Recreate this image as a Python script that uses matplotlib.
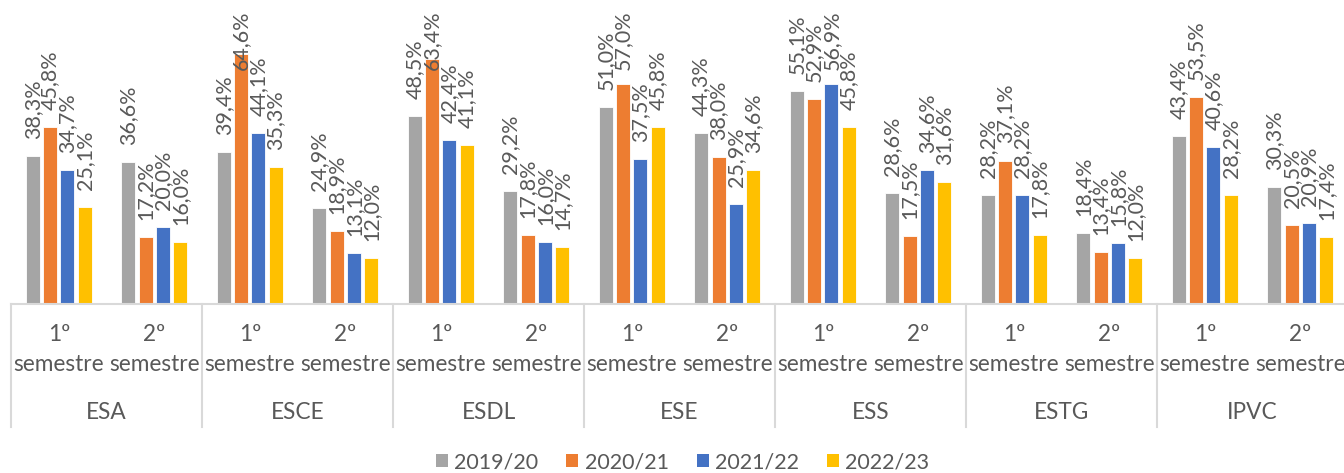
import matplotlib
matplotlib.use("Agg")
from matplotlib import pyplot as plt
from matplotlib.patches import Patch
import numpy as np

plt.rcParams['font.family'] = ['Lato', 'DejaVu Sans']

# schools and semesters
schools = ['ESA', 'ESCE', 'ESDL', 'ESE', 'ESS', 'ESTG', 'IPVC']
semesters = ['1º\nsemestre', '2º\nsemestre']
years = ['2019/20', '2020/21', '2021/22', '2022/23']
colors = ['#A5A5A5', '#ED7D31', '#4472C4', '#FFC000']

# values per year, order: ESA 1º, ESA 2º, ESCE 1º, ESCE 2º, ...
v2019 = [38.3, 36.6, 39.4, 24.9, 48.5, 29.2, 51.0, 44.3, 55.1, 28.6, 28.2, 18.4, 43.4, 30.3]
v2020 = [45.8, 17.2, 64.6, 18.9, 63.4, 17.8, 57.0, 38.0, 52.9, 17.5, 37.1, 13.4, 53.5, 20.5]
v2021 = [34.7, 20.0, 44.1, 13.1, 42.4, 16.0, 37.5, 25.9, 56.9, 34.6, 28.2, 15.8, 40.6, 20.9]
v2022 = [25.1, 16.0, 35.3, 12.0, 41.1, 14.7, 45.8, 34.6, 45.8, 31.6, 17.8, 12.0, 28.2, 17.4]
series = [v2019, v2020, v2021, v2022]

txt = '#595959'
grid = '#D9D9D9'

fig = plt.figure(figsize=(13.44, 4.73), dpi=100)
ax = fig.add_axes([11/1344, 169/473, 14*95.5/1344, 304/473])

x = np.arange(len(v2019))
bw = 0.147
step = 0.181
ymax = 78.6
for i, vals in enumerate(series):
    xs = x + (i - 1.5) * step
    ax.bar(xs, vals, width=bw, color=colors[i], edgecolor='white', linewidth=0.6, zorder=2)
    for xx, v in zip(xs, vals):
        # labels that would run past the top get pushed down (like Excel does)
        yl = min(v + 4.4, 60.5)
        ax.text(xx, yl, f"{v:.1f}%".replace('.', ','), rotation=90, ha='center', va='bottom',
                fontsize=15.5, color=txt)

ax.set_xlim(-0.5, len(x) - 0.5)
ax.set_ylim(0, ymax)
ax.set_yticks([])
ax.set_xticks([])
for s in ['top', 'right', 'left']:
    ax.spines[s].set_visible(False)
ax.spines['bottom'].set_color(grid)
ax.spines['bottom'].set_linewidth(1.5)

trans = ax.get_xaxis_transform()
# semester labels
for k in range(len(x)):
    sem = semesters[k % 2].split('\n')
    ax.annotate(sem[0], xy=(k, 0), xycoords=trans, xytext=(0, -22.3), textcoords='offset points',
                ha='center', va='center', fontsize=16.3, color=txt)
    ax.annotate(sem[1], xy=(k, 0), xycoords=trans, xytext=(0, -43.5), textcoords='offset points',
                ha='center', va='center', fontsize=16.3, color=txt)
# school labels and separators
for j, name in enumerate(schools):
    ax.annotate(name, xy=(2 * j + 0.5, 0), xycoords=trans, xytext=(0, -78), textcoords='offset points',
                ha='center', va='center', fontsize=16.3, color=txt)
for j in range(len(schools) + 1):
    ax.plot([2 * j - 0.5, 2 * j - 0.5], [0, -0.405], transform=trans, color=grid, lw=1.5, clip_on=False)

handles = [Patch(facecolor=c, label=y) for c, y in zip(colors, years)]
fig.legend(handles=handles, loc='lower center', bbox_to_anchor=(0.508, -0.04), ncol=4, frameon=False,
           fontsize=15.5, handlelength=0.55, handleheight=0.55, handletextpad=0.3, columnspacing=1.3,
           labelcolor=txt)

fig.savefig('out.png', dpi=100)
